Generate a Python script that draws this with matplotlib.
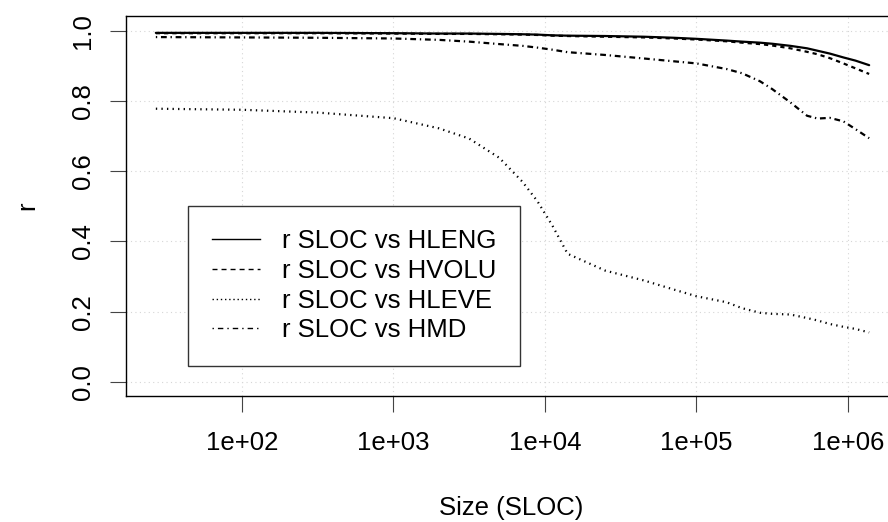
import matplotlib
matplotlib.use('Agg')
import matplotlib.pyplot as plt
from matplotlib.lines import Line2D

plt.rcParams['font.family'] = ['Liberation Sans', 'DejaVu Sans']

# size in SLOC (log scale) and correlation values
sloc = [27, 100, 316, 1000, 2000, 3160, 5000, 7100, 8900, 11200, 14100,
        25000, 45000, 71000, 100000, 158000, 200000, 263000, 316000,
        417000, 537000, 631000, 759000, 933000, 1120000, 1380000]

r_hleng = [0.994, 0.994, 0.994, 0.993, 0.992, 0.992, 0.991, 0.990, 0.989,
           0.987, 0.986, 0.985, 0.983, 0.980, 0.977, 0.972, 0.969, 0.966,
           0.963, 0.957, 0.950, 0.943, 0.935, 0.924, 0.915, 0.902]
r_hvolu = [0.993, 0.993, 0.993, 0.992, 0.991, 0.991, 0.990, 0.989, 0.988,
           0.986, 0.985, 0.983, 0.981, 0.978, 0.975, 0.970, 0.966, 0.962,
           0.958, 0.950, 0.940, 0.933, 0.922, 0.907, 0.893, 0.877]
r_hleve = [0.778, 0.775, 0.767, 0.751, 0.722, 0.693, 0.638, 0.570, 0.515,
           0.445, 0.365, 0.317, 0.289, 0.263, 0.244, 0.227, 0.210, 0.197,
           0.194, 0.192, 0.182, 0.175, 0.165, 0.157, 0.151, 0.141]
r_hmd = [0.982, 0.981, 0.980, 0.978, 0.974, 0.969, 0.962, 0.957, 0.952,
         0.946, 0.939, 0.931, 0.921, 0.913, 0.907, 0.891, 0.879, 0.856,
         0.834, 0.796, 0.758, 0.750, 0.752, 0.742, 0.720, 0.694]

labels = ['r SLOC vs HLENG', 'r SLOC vs HVOLU', 'r SLOC vs HLEVE', 'r SLOC vs HMD']
xtick_vals = [1e2, 1e3, 1e4, 1e5, 1e6]
xtick_labels = ['1e+02', '1e+03', '1e+04', '1e+05', '1e+06']
ytick_vals = [0.0, 0.2, 0.4, 0.6, 0.8, 1.0]

W, H = 888, 522
fig = plt.figure(figsize=(W / 100, H / 100), dpi=100)
# plot region runs past the right edge of the image, like the original
ax = fig.add_axes([126 / W, (H - 396) / H, (897.8 - 126) / W, (396 - 16) / H])

fs = 18.5
styles = ['-', (0, (1.9, 1.8)), (0, (0.6, 1.9)), (0, (0.6, 1.7, 2.6, 1.7))]
series = [r_hleng, r_hvolu, r_hleve, r_hmd]
for vals, ls in zip(series, styles):
    ax.plot(sloc, vals, color='black', lw=1.6, linestyle=ls,
            dash_capstyle='butt', solid_capstyle='round')

ax.set_xscale('log')
ax.set_xlim(10 ** 1.2343, 10 ** 6.329)
ax.set_ylim(-0.04, 1.042)

ax.set_xticks(xtick_vals)
ax.set_xticklabels(xtick_labels)
ax.minorticks_off()
ax.set_yticks(ytick_vals)
ax.set_yticklabels(['%.1f' % v for v in ytick_vals])
for t in ax.get_yticklabels():
    t.set_rotation(90)
    t.set_va('center')

ax.tick_params(axis='both', labelsize=fs, length=11.5, width=0.8,
               color='#444444', direction='out')
ax.tick_params(axis='x', pad=14)
ax.tick_params(axis='y', pad=11)

ax.grid(True, color='#d6d6d6', linestyle=(0, (1, 3)), lw=0.8)
for s in ax.spines.values():
    s.set_linewidth(1.0)
    s.set_color('black')

# legend with thinner lines, as in the original
handles = [Line2D([], [], color='black', lw=1, linestyle='-'),
           Line2D([], [], color='black', lw=1, linestyle=(0, (3.6, 2.9))),
           Line2D([], [], color='black', lw=1, linestyle=(0, (1, 2))),
           Line2D([], [], color='black', lw=1, linestyle=(0, (1, 2.9, 3.9, 2.9)))]
leg = ax.legend(handles, labels, loc='lower left',
                bbox_to_anchor=(188 / W, (H - 366) / H), bbox_transform=fig.transFigure,
                borderaxespad=0, fontsize=fs, handlelength=1.9, handletextpad=0.85,
                labelspacing=0.22, borderpad=0.92, fancybox=False, framealpha=1,
                edgecolor='#333333')
leg.get_frame().set_linewidth(1.0)

fig.text(511 / W, (H - 508) / H, 'Size (SLOC)', fontsize=fs, ha='center', va='center')
fig.text(27 / W, (H - 206) / H, 'r', fontsize=fs, ha='center', va='center', rotation=90)

fig.savefig('out.png', dpi=100)
